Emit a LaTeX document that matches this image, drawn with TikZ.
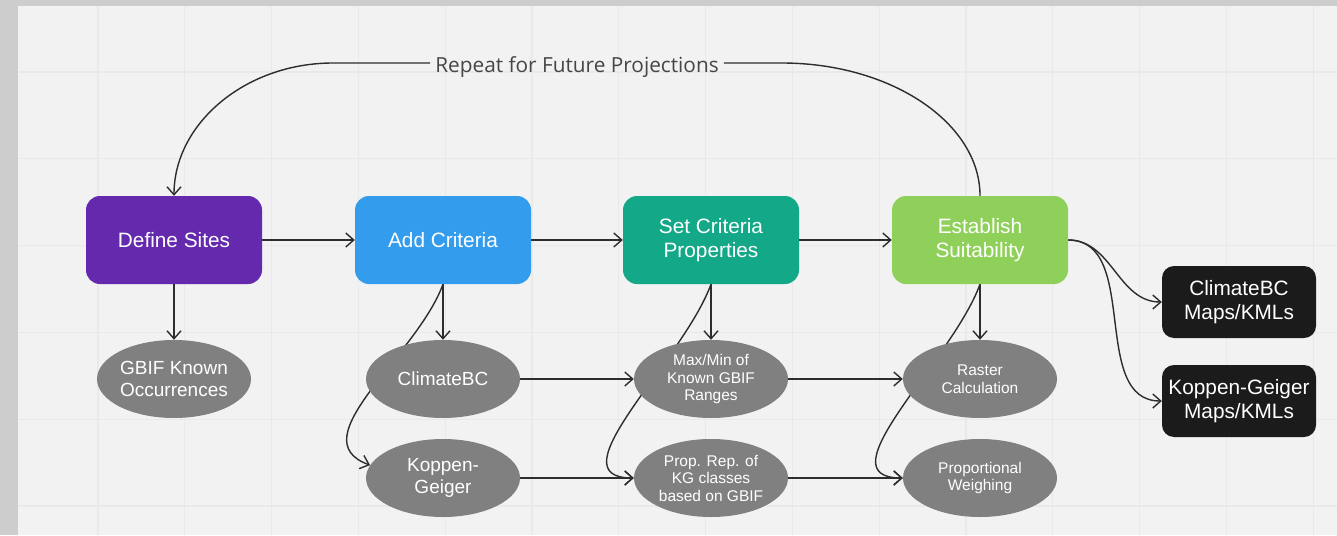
\documentclass[tikz,border=0pt]{standalone}
\usepackage{fontspec}
\setmainfont{Liberation Sans}
\newfontfamily\notefont{Open Sans}
\usetikzlibrary{shapes.geometric, arrows.meta, positioning, backgrounds}
\definecolor{sitescolor}{RGB}{101,41,174}
\definecolor{criteriacolor}{RGB}{51,156,236}
\definecolor{propcolor}{RGB}{19,168,136}
\definecolor{suitcolor}{RGB}{143,208,90}
\definecolor{outputcolor}{RGB}{27,27,27}
\definecolor{datacolor}{RGB}{128,128,128}
\definecolor{linkcolor}{RGB}{45,45,45}
\definecolor{notecolor}{RGB}{70,70,70}
\definecolor{panelcolor}{RGB}{242,242,242}
\definecolor{gridcolor}{RGB}{233,233,233}
\definecolor{framecolor}{RGB}{205,205,205}
\pgfdeclarelayer{edges}
\pgfsetlayers{background,edges,main}

\begin{document}
\begin{tikzpicture}[
    x=1pt, y=1pt,
    box/.style={fill=#1, text=white, minimum width=176pt, minimum height=88pt, rounded corners=14pt, inner sep=0pt, font=\fontsize{20.8}{23.5}\selectfont, align=center},
    outbox/.style={fill=outputcolor, text=white, minimum width=154pt, minimum height=72pt, rounded corners=12pt, inner sep=0pt, font=\fontsize{20.8}{23.5}\selectfont, align=center},
    data/.style={ellipse, fill=datacolor, text=white, minimum width=154pt, minimum height=78pt, inner sep=0pt, font=\fontsize{19}{22}\selectfont, align=center},
    smalldata/.style={data, font=\fontsize{15.5}{17.5}\selectfont},
    link/.style={line width=1.4pt, draw=linkcolor},
    arrow/.style={link, -{Straight Barb[length=8pt, width=14pt]}},
    gridline/.style={line width=1.2pt, draw=gridcolor}
]
    \useasboundingbox (0,0) rectangle (1337,-535);

    % board with grid
    \begin{pgfonlayer}{background}
        \fill[framecolor] (0,0) rectangle (1337,-535);
        \fill[panelcolor] (18,-6) rectangle (1337,-535);
        \foreach \i in {0,...,14}
            \draw[gridline] ({98+86.8*\i},-6) -- ++(0,-529);
        \foreach \j in {0,...,5}
            \draw[gridline] (18,{-72-86.8*\j}) -- (1337,{-72-86.8*\j});
    \end{pgfonlayer}

    % main steps
    \node[box=sitescolor] (def) at (174,-240) {Define Sites};
    \node[box=criteriacolor] (add) at (443,-240) {Add Criteria};
    \node[box=propcolor] (props) at (711,-240) {Set Criteria\\Properties};
    \node[box=suitcolor] (suit) at (980,-240) {Establish\\Suitability};

    % data and methods
    \node[data] (gbif) at (174,-379) {GBIF Known\\Occurrences};
    \node[data] (cbc) at (443,-379) {ClimateBC};
    \node[data] (kg) at (443,-478) {Koppen-\\Geiger};
    \node[smalldata] (range) at (711,-379) {Max/Min of\\Known GBIF\\Ranges};
    \node[smalldata] (kgrep) at (711,-478) {Prop. Rep. of\\KG classes\\based on GBIF};
    \node[smalldata] (raster) at (980,-379) {Raster\\Calculation};
    \node[smalldata] (weigh) at (980,-478) {Proportional\\Weighing};

    % outputs
    \node[outbox] (cbcmap) at (1239,-302) {ClimateBC\\Maps/KMLs};
    \node[outbox] (kgmap) at (1239,-401) {Koppen-Geiger\\Maps/KMLs};

    \node[font=\notefont\fontsize{20.8}{24}\selectfont, text=notecolor, text height=20pt, text depth=0pt, inner xsep=5pt, inner ysep=0pt] (repeat) at (577,-63) {Repeat for Future Projections};

    \begin{pgfonlayer}{edges}
        \draw[arrow] (def) -- (add);
        \draw[arrow] (add) -- (props);
        \draw[arrow] (props) -- (suit);

        \draw[arrow] (def) -- (gbif);
        \draw[arrow] (add) -- (cbc);
        \draw[arrow] (props) -- (range);
        \draw[arrow] (suit) -- (raster);

        \draw[arrow] (cbc) -- (range);
        \draw[arrow] (range) -- (raster);
        \draw[arrow] (kg) -- (kgrep);
        \draw[arrow] (kgrep) -- (weigh);

        % second branch of each step runs behind the first one
        \draw[arrow] (add.south) to[out=-110, in=160] (kg.170);
        \draw[arrow] (props.south) to[out=-110, in=180] (kgrep.west);
        \draw[arrow] (suit.south) to[out=-110, in=180] (weigh.west);

        \draw[arrow] (suit.east) to[out=0, in=180] (cbcmap.west);
        \draw[arrow] (suit.east) to[out=0, in=180] (kgmap.west);

        % loop back
        \draw[link] (repeat.east) -- ++(58,0) .. controls +(109,0) and +(0,73) .. (suit.north);
        \draw[arrow] (repeat.west) -- ++(-97,0) .. controls +(-88,0) and +(0,72) .. (def.north);
    \end{pgfonlayer}
\end{tikzpicture}
\end{document}
